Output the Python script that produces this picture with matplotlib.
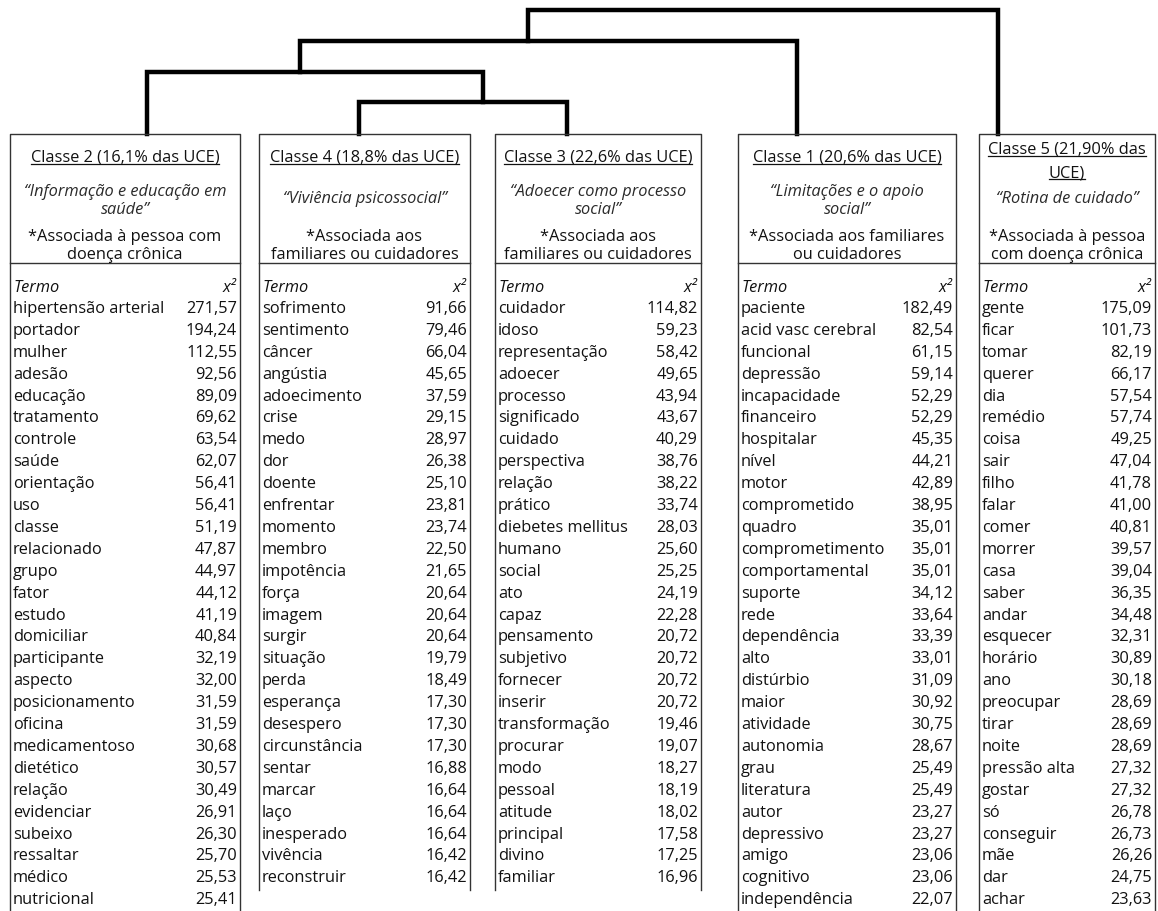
import matplotlib
matplotlib.use("Agg")
import matplotlib.pyplot as plt

plt.rcParams['font.family'] = ['Open Sans', 'DejaVu Sans']

# ---- dados (na ordem em que as classes aparecem, da esquerda para a direita)
titulos = ["Classe 2 (16,1% das UCE)", "Classe 4 (18,8% das UCE)",
           "Classe 3 (22,6% das UCE)", "Classe 1 (20,6% das UCE)",
           "Classe 5 (21,90% das\nUCE)"]
nomes = ["“Informação e educação em\nsaúde”", "“Viviência psicossocial”",
         "“Adoecer como processo\nsocial”", "“Limitações e o apoio\nsocial”",
         "“Rotina de cuidado”"]
associacao = ["*Associada à pessoa com\ndoença crônica",
              "*Associada aos\nfamiliares ou cuidadores",
              "*Associada aos\nfamiliares ou cuidadores",
              "*Associada aos familiares\nou cuidadores",
              "*Associada à pessoa\ncom doença crônica"]

termos_c2 = ["hipertensão arterial", "portador", "mulher", "adesão", "educação",
             "tratamento", "controle", "saúde", "orientação", "uso", "classe",
             "relacionado", "grupo", "fator", "estudo", "domiciliar",
             "participante", "aspecto", "posicionamento", "oficina",
             "medicamentoso", "dietético", "relação", "evidenciar", "subeixo",
             "ressaltar", "médico", "nutricional"]
chi2_c2 = [271.57, 194.24, 112.55, 92.56, 89.09, 69.62, 63.54, 62.07, 56.41,
           56.41, 51.19, 47.87, 44.97, 44.12, 41.19, 40.84, 32.19, 32.00,
           31.59, 31.59, 30.68, 30.57, 30.49, 26.91, 26.30, 25.70, 25.53, 25.41]

termos_c4 = ["sofrimento", "sentimento", "câncer", "angústia", "adoecimento",
             "crise", "medo", "dor", "doente", "enfrentar", "momento", "membro",
             "impotência", "força", "imagem", "surgir", "situação", "perda",
             "esperança", "desespero", "circunstância", "sentar", "marcar",
             "laço", "inesperado", "vivência", "reconstruir"]
chi2_c4 = [91.66, 79.46, 66.04, 45.65, 37.59, 29.15, 28.97, 26.38, 25.10,
           23.81, 23.74, 22.50, 21.65, 20.64, 20.64, 20.64, 19.79, 18.49,
           17.30, 17.30, 17.30, 16.88, 16.64, 16.64, 16.64, 16.42, 16.42]

termos_c3 = ["cuidador", "idoso", "representação", "adoecer", "processo",
             "significado", "cuidado", "perspectiva", "relação", "prático",
             "diebetes mellitus", "humano", "social", "ato", "capaz",
             "pensamento", "subjetivo", "fornecer", "inserir", "transformação",
             "procurar", "modo", "pessoal", "atitude", "principal", "divino",
             "familiar"]
chi2_c3 = [114.82, 59.23, 58.42, 49.65, 43.94, 43.67, 40.29, 38.76, 38.22,
           33.74, 28.03, 25.60, 25.25, 24.19, 22.28, 20.72, 20.72, 20.72,
           20.72, 19.46, 19.07, 18.27, 18.19, 18.02, 17.58, 17.25, 16.96]

termos_c1 = ["paciente", "acid vasc cerebral", "funcional", "depressão",
             "incapacidade", "financeiro", "hospitalar", "nível", "motor",
             "comprometido", "quadro", "comprometimento", "comportamental",
             "suporte", "rede", "dependência", "alto", "distúrbio", "maior",
             "atividade", "autonomia", "grau", "literatura", "autor",
             "depressivo", "amigo", "cognitivo", "independência"]
chi2_c1 = [182.49, 82.54, 61.15, 59.14, 52.29, 52.29, 45.35, 44.21, 42.89,
           38.95, 35.01, 35.01, 35.01, 34.12, 33.64, 33.39, 33.01, 31.09,
           30.92, 30.75, 28.67, 25.49, 25.49, 23.27, 23.27, 23.06, 23.06, 22.07]

termos_c5 = ["gente", "ficar", "tomar", "querer", "dia", "remédio", "coisa",
             "sair", "filho", "falar", "comer", "morrer", "casa", "saber",
             "andar", "esquecer", "horário", "ano", "preocupar", "tirar",
             "noite", "pressão alta", "gostar", "só", "conseguir", "mãe", "dar",
             "achar"]
chi2_c5 = [175.09, 101.73, 82.19, 66.17, 57.54, 57.74, 49.25, 47.04, 41.78,
           41.00, 40.81, 39.57, 39.04, 36.35, 34.48, 32.31, 30.89, 30.18,
           28.69, 28.69, 28.69, 27.32, 27.32, 26.78, 26.73, 26.26, 24.75, 23.63]

termos = [termos_c2, termos_c4, termos_c3, termos_c1, termos_c5]
valores = [chi2_c2, chi2_c4, chi2_c3, chi2_c1, chi2_c5]

# dendrograma: altura de cada fusao (1 = mais baixa)
niveis = [1, 2, 3, 4]   # Classe4+3, +Classe2, +Classe1, +Classe5

# ---- layout (pixels)
W, H = 1158, 912
box_left = [10, 259, 495, 738, 979]
box_right = [240, 470, 701, 956, 1155]
box_bottom = [915, 891, 891, 915, 915]
box_top = 135
divisor = 264
row0, drow = 309, 21.9
fs = 11.8

fig = plt.figure(figsize=(W / 100, H / 100), dpi=100)
ax = fig.add_axes([0, 0, 1, 1])
ax.set_xlim(0, W)
ax.set_ylim(H, 0)
ax.axis('off')


def nivel_y(n):
    return box_top - 30.75 * n - 1


# x das ligacoes de cada folha / no
leaf_x = [147, 359, 567, 797, 998]
no_x = [483, 300, 528]
lw_d = 3.2
kw = dict(color='black', lw=lw_d, solid_joinstyle='miter')
# Classe4 + Classe3
y4 = nivel_y(niveis[0])
ax.plot([leaf_x[1], leaf_x[1], leaf_x[2], leaf_x[2]],
        [box_top, y4, y4, box_top], **kw)
# + Classe2
y3 = nivel_y(niveis[1])
ax.plot([leaf_x[0], leaf_x[0], no_x[0], no_x[0]], [box_top, y3, y3, y4], **kw)
# + Classe1
y2 = nivel_y(niveis[2])
ax.plot([no_x[1], no_x[1], leaf_x[3], leaf_x[3]], [y3, y2, y2, box_top], **kw)
# + Classe5
y1 = nivel_y(niveis[3])
ax.plot([no_x[2], no_x[2], leaf_x[4], leaf_x[4]], [y2, y1, y1, box_top], **kw)

renderer = fig.canvas.get_renderer()
tc = '#111111'

for i in range(5):
    l, r, b = box_left[i], box_right[i], box_bottom[i]
    cx = (l + r) / 2
    # caixa
    ax.plot([l, l, r, r], [b, box_top, box_top, b], color='#333333', lw=1.0)
    ax.plot([l, r], [divisor, divisor], color='#333333', lw=1.0)

    # titulo sublinhado
    linhas = titulos[i].split('\n')
    if len(linhas) == 1:
        ys = [162]
    else:
        ys = [154, 177]
    for txt, yb in zip(linhas, ys):
        t = ax.text(cx, yb, txt, ha='center', va='baseline', fontsize=fs,
                    color=tc)
        bb = t.get_window_extent(renderer)
        ax.plot([bb.x0, bb.x1], [yb + 2.5, yb + 2.5], color=tc, lw=0.9)

    # nome da classe
    qy = 201 if '\n' in nomes[i] else 199
    ax.text(cx, qy, nomes[i], ha='center', va='center', fontsize=fs,
            style='italic', color='#2a2a2a', linespacing=1.1)
    ax.text(cx, 246, associacao[i], ha='center', va='center', fontsize=fs,
            color=tc, linespacing=1.1)

    # tabela
    ax.text(l + 4, 288, "Termo", ha='left', va='center', fontsize=fs,
            style='italic', color=tc)
    ax.text(r - 4, 288, "x²", ha='right', va='center', fontsize=fs,
            style='italic', color=tc)
    for k, (termo, v) in enumerate(zip(termos[i], valores[i])):
        y = row0 + k * drow
        ax.text(l + 3, y, termo, ha='left', va='center', fontsize=fs,
                color=tc)
        ax.text(r - 3, y, f"{v:.2f}".replace('.', ','), ha='right',
                va='center', fontsize=fs, color=tc)

fig.savefig("out.png", dpi=100, facecolor='white')
